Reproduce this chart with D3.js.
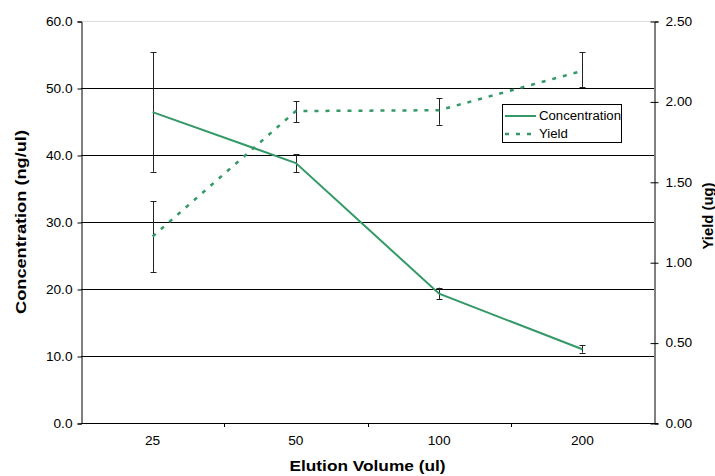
<!DOCTYPE html>
<html><head><meta charset="utf-8">
<script src="https://cdn.jsdelivr.net/npm/d3@7"></script>
<style>body{margin:0;background:#fff}svg{display:block}text{font-family:"Liberation Sans",Arial,sans-serif}</style>
</head><body><svg id="c" width="715" height="476"></svg>
<script>
const categories = ["25","50","100","200"];
const concentration = [46.4, 38.8, 19.3, 11.0];
const concErrHigh = [55.3, 40.1, 20.2, 11.6];
const concErrLow = [37.5, 37.4, 18.5, 10.5];
const yieldVals = [1.16, 1.94, 1.945, 2.19];
const yieldErrHigh = [1.38, 2.00, 2.02, 2.305];
const yieldErrLow = [0.94, 1.87, 1.855, 2.09];
const leftTicks = [0,10,20,30,40,50,60];
const rightTicks = [0,0.5,1,1.5,2,2.5];

const svg = d3.select("#c");
const L=81, R=654, T=21, B=423;
const green="#339966";
const x = d3.scaleBand().domain(categories).range([L,R]);
const yL = d3.scaleLinear().domain([0,60]).range([B,T]);
const yR = d3.scaleLinear().domain([0,2.5]).range([B,T]);
const cx = d => x(d)+x.bandwidth()/2;

function stretch(sel, f){
  sel.each(function(){
    const n=this.getComputedTextLength();
    d3.select(this).attr("textLength",n*f).attr("lengthAdjust","spacingAndGlyphs");
  });
}

// gridlines
svg.append("g").selectAll("line").data(leftTicks.filter(t=>t>0&&t<60)).join("line")
  .attr("x1",L).attr("x2",R).attr("y1",d=>Math.round(yL(d))+0.5).attr("y2",d=>Math.round(yL(d))+0.5)
  .attr("stroke","#000").attr("stroke-width",1);
svg.append("line").attr("x1",L).attr("x2",R).attr("y1",T+0.5).attr("y2",T+0.5).attr("stroke","#ddd");

// axes
const gl = svg.append("g").attr("transform",`translate(${L+0.5},0.5)`)
  .call(d3.axisLeft(yL).tickValues(leftTicks).tickFormat(d3.format(".1f")).tickSizeOuter(0).tickSize(4).tickPadding(5));
const gr = svg.append("g").attr("transform",`translate(${R+0.5},0.5)`)
  .call(d3.axisRight(yR).tickValues(rightTicks).tickFormat(d3.format(".2f")).tickSizeOuter(0).tickSize(4).tickPadding(7));
gr.selectAll(".tick line").attr("x1",-4);
const gx = svg.append("g").attr("transform",`translate(0,${B+0.5})`)
  .call(d3.axisBottom(x).tickSize(0).tickPadding(13));
gx.select(".domain").remove();
svg.append("line").attr("x1",L).attr("x2",R+4).attr("y1",B+0.5).attr("y2",B+0.5).attr("stroke","#000");
svg.append("g").selectAll("line").data(categories.slice(1)).join("line")
  .attr("x1",d=>Math.round(x(d))+0.5).attr("x2",d=>Math.round(x(d))+0.5)
  .attr("y1",B).attr("y2",B+4).attr("stroke","#000");
[gl,gr,gx].forEach(g=>{
  g.selectAll("text").attr("font-size",12).attr("fill","#000").attr("font-family","Liberation Sans, Arial, sans-serif");
  g.selectAll("line,path").attr("stroke","#000");
  stretch(g.selectAll("text"),1.14);
});

// error bars
function errBars(hi,lo,y){
  const g=svg.append("g").attr("stroke","#222").attr("stroke-width",1);
  categories.forEach((c,i)=>{
    const xx=Math.round(cx(c))+0.5;
    g.append("line").attr("x1",xx).attr("x2",xx).attr("y1",y(hi[i])).attr("y2",y(lo[i]));
    [hi[i],lo[i]].forEach(v=>g.append("line").attr("x1",xx-3).attr("x2",xx+3).attr("y1",Math.round(y(v))+0.5).attr("y2",Math.round(y(v))+0.5));
  });
}
errBars(concErrHigh,concErrLow,yL);
errBars(yieldErrHigh,yieldErrLow,yR);

// lines
svg.append("path").datum(concentration).attr("fill","none").attr("stroke",green).attr("stroke-width",2)
  .attr("d",d3.line().x((d,i)=>cx(categories[i])).y(d=>yL(d)));
svg.append("path").datum(yieldVals).attr("fill","none").attr("stroke",green).attr("stroke-width",2.5)
  .attr("stroke-dasharray","4,7")
  .attr("d",d3.line().x((d,i)=>cx(categories[i])).y(d=>yR(d)));

// axis titles
svg.append("text").attr("transform",`translate(21,${(T+B)/2}) rotate(-90)`).attr("text-anchor","middle")
  .attr("dominant-baseline","central").attr("font-size",14).attr("font-weight","bold")
  .attr("textLength",184).attr("lengthAdjust","spacingAndGlyphs").text("Concentration (ng/ul)");
svg.append("text").attr("transform",`translate(708,216) rotate(-90)`).attr("text-anchor","middle")
  .attr("dominant-baseline","central").attr("font-size",14).attr("font-weight","bold")
  .attr("textLength",67).attr("lengthAdjust","spacingAndGlyphs").text("Yield (ug)");
svg.append("text").attr("x",(L+R)/2).attr("y",471).attr("text-anchor","middle")
  .attr("font-size",14).attr("font-weight","bold")
  .attr("textLength",156).attr("lengthAdjust","spacingAndGlyphs").text("Elution Volume (ul)");

// legend
const lg=svg.append("g");
lg.append("rect").attr("x",502.5).attr("y",104.5).attr("width",119).attr("height",38).attr("fill","#fff").attr("stroke","#000");
lg.append("line").attr("x1",505).attr("x2",536).attr("y1",116).attr("y2",116).attr("stroke",green).attr("stroke-width",2);
lg.append("line").attr("x1",505).attr("x2",536).attr("y1",134).attr("y2",134).attr("stroke",green).attr("stroke-width",2.5).attr("stroke-dasharray","4,7");
lg.append("text").attr("x",539).attr("y",120).attr("font-size",12).attr("textLength",82).attr("lengthAdjust","spacingAndGlyphs").text("Concentration");
const yt=lg.append("text").attr("x",539).attr("y",138).attr("font-size",12).text("Yield");
stretch(yt,1.1);
</script></body></html>
